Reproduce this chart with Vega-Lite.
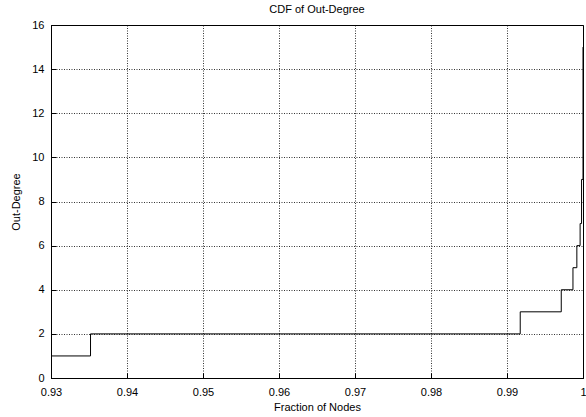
{
  "$schema": "https://vega.github.io/schema/vega-lite/v6.json",
  "width": 532,
  "height": 353,
  "autosize": {"type": "none"},
  "padding": {"left": 51, "top": 25, "right": 3, "bottom": 39},
  "background": "white",
  "title": {"text": "CDF of Out-Degree", "fontSize": 11, "fontWeight": "normal", "font": "Liberation Sans", "color": "#000", "offset": 4, "anchor": "middle"},
  "config": {
    "view": {"stroke": "#000", "strokeWidth": 1},
    "axis": {
      "labelFont": "Liberation Sans", "titleFont": "Liberation Sans",
      "labelFontSize": 11, "titleFontSize": 11, "titleFontWeight": "normal",
      "labelColor": "#000", "titleColor": "#000",
      "domainColor": "#000", "tickColor": "#000",
      "gridColor": "#000", "gridDash": [1, 1.5], "gridOpacity": 0.8, "gridWidth": 1,
      "ticks": true, "tickSize": -5
    }
  },
  "data": {"values": [
    {"fraction": 0.93, "degree": 1},
    {"fraction": 0.9352, "degree": 2},
    {"fraction": 0.99174, "degree": 3},
    {"fraction": 0.99714, "degree": 4},
    {"fraction": 0.99868, "degree": 5},
    {"fraction": 0.99919, "degree": 6},
    {"fraction": 0.99962, "degree": 7},
    {"fraction": 0.99981, "degree": 9},
    {"fraction": 1.0, "degree": 15}
  ]},
  "mark": {"type": "line", "interpolate": "step-after", "color": "#000", "strokeWidth": 1, "clip": true},
  "encoding": {
    "x": {"field": "fraction", "type": "quantitative", "title": "Fraction of Nodes",
      "scale": {"domain": [0.93, 1.0], "nice": false, "zero": false},
      "axis": {"values": [0.93, 0.94, 0.95, 0.96, 0.97, 0.98, 0.99, 1.0], "format": ".2~f", "labelPadding": 13, "titlePadding": 4, "labelFlush": false}},
    "y": {"field": "degree", "type": "quantitative", "title": "Out-Degree",
      "scale": {"domain": [0, 16], "nice": false},
      "axis": {"values": [0, 2, 4, 6, 8, 10, 12, 14, 16], "labelPadding": 12, "titlePadding": 10}}
  }
}
